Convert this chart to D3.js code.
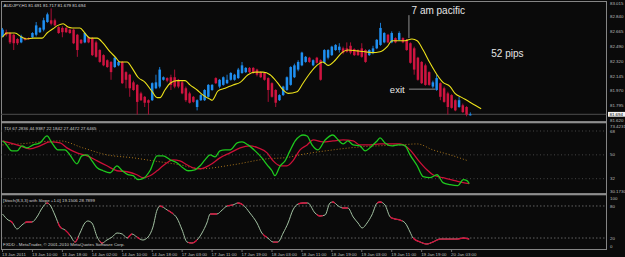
<!DOCTYPE html>
<html>
<head>
<meta charset="utf-8">
<title>AUDJPY,H1</title>
<script src="https://d3js.org/d3.v7.min.js"></script>
<style>
  body { margin: 0; background: #0a0a0a; }
  svg { display: block; }
</style>
</head>
<body>
<script>
// ---- candles (AUDJPY H1) ----
const open = [82.61,82.66,82.65,82.63,82.58,82.54,82.59,82.59,82.60,82.63,
  82.66,82.69,82.78,82.80,82.80,82.72,82.71,82.71,82.69,82.69,
  82.63,82.57,82.54,82.60,82.59,82.54,82.45,82.39,82.33,82.31,
  82.25,82.27,82.31,82.19,82.16,82.07,82.04,81.94,81.90,81.86,
  81.86,82.00,82.02,82.10,82.12,82.13,82.13,82.10,82.07,82.00,
  81.94,81.90,81.78,81.86,81.86,81.90,81.98,82.12,82.02,82.04,
  82.06,82.10,82.10,82.12,82.18,82.19,82.24,82.24,82.22,82.19,
  82.18,82.12,82.06,81.98,81.86,81.92,81.98,82.04,82.13,82.22,
  82.27,82.31,82.36,82.27,82.36,82.33,82.30,82.36,82.39,82.45,
  82.45,82.47,82.47,82.50,82.46,82.45,82.47,82.45,82.39,82.42,
  82.47,82.51,82.54,82.63,82.54,82.59,82.57,82.59,82.57,82.53,
  82.47,82.36,82.31,82.27,82.19,82.02,81.98,82.06,82.00,81.94,
  81.92,81.86,81.78,81.80,81.78,81.691];
const high = [82.71,82.69,82.66,82.64,82.59,82.63,82.60,82.60,82.66,82.78,
  82.72,82.83,82.89,82.94,82.82,82.73,82.73,82.72,82.70,82.70,
  82.64,82.58,82.66,82.61,82.60,82.56,82.46,82.40,82.34,82.32,
  82.37,82.32,82.32,82.20,82.17,82.09,82.05,81.96,81.91,81.87,
  82.07,82.16,82.25,82.14,82.13,82.16,82.22,82.11,82.09,82.02,
  81.96,81.91,81.87,81.93,81.99,82.05,82.05,82.13,82.11,82.14,
  82.16,82.19,82.17,82.24,82.31,82.25,82.25,82.25,82.23,82.20,
  82.19,82.13,82.07,81.99,81.93,82.03,82.14,82.26,82.29,82.33,
  82.43,82.38,82.37,82.34,82.37,82.34,82.46,82.46,82.50,82.52,
  82.53,82.49,82.54,82.54,82.47,82.46,82.53,82.46,82.46,82.50,
  82.58,82.77,82.66,82.64,82.67,82.60,82.67,82.60,82.58,82.54,
  82.49,82.37,82.32,82.29,82.20,82.09,82.16,82.07,82.02,81.96,
  81.93,81.87,81.90,81.82,81.79,81.717];
const low = [82.60,82.61,82.52,82.45,82.51,82.53,82.56,82.57,82.59,82.61,
  82.65,82.67,82.77,82.74,82.73,82.64,82.60,82.65,82.64,82.52,
  82.37,82.52,82.53,82.53,82.38,82.36,82.30,82.26,82.24,82.10,
  82.24,82.26,82.05,82.00,81.90,81.97,81.69,81.85,81.78,81.69,
  81.85,81.99,82.00,82.09,82.07,81.98,82.00,82.00,81.93,81.84,
  81.82,81.83,81.74,81.85,81.85,81.89,81.97,82.05,82.00,82.03,
  82.05,82.09,82.09,82.11,82.17,82.18,82.18,82.17,82.14,82.12,
  82.09,81.84,81.89,81.78,81.85,81.91,81.97,82.03,82.12,82.20,
  82.26,82.30,82.30,82.26,82.29,82.09,82.29,82.34,82.38,82.44,
  82.42,82.40,82.42,82.40,82.38,82.38,82.36,82.30,82.38,82.40,
  82.46,82.50,82.53,82.53,82.53,82.53,82.56,82.53,82.44,82.29,
  82.16,82.09,82.05,82.03,82.03,82.00,81.97,81.86,81.83,81.69,
  81.76,81.73,81.77,81.71,81.67,81.679];
const close = [82.69,82.63,82.54,82.53,82.53,82.61,82.57,82.58,82.65,82.74,
  82.71,82.80,82.87,82.76,82.74,82.65,82.66,82.66,82.65,82.53,
  82.45,82.53,82.65,82.54,82.39,82.37,82.31,82.27,82.25,82.19,
  82.36,82.31,82.06,82.10,82.00,81.98,81.84,81.86,81.83,81.83,
  82.06,82.07,82.22,82.13,82.09,82.04,82.02,82.02,81.94,81.86,
  81.83,81.84,81.86,81.92,81.98,82.04,82.04,82.06,82.10,82.13,
  82.10,82.18,82.16,82.22,82.27,82.24,82.19,82.18,82.16,82.13,
  82.10,81.98,81.90,81.83,81.92,82.02,82.13,82.25,82.27,82.31,
  82.42,82.37,82.31,82.33,82.30,82.10,82.45,82.45,82.49,82.51,
  82.49,82.42,82.43,82.42,82.39,82.39,82.37,82.31,82.45,82.47,
  82.57,82.71,82.65,82.54,82.65,82.54,82.65,82.54,82.45,82.30,
  82.22,82.10,82.06,82.04,82.04,82.07,82.12,81.90,81.84,81.78,
  81.77,81.74,81.86,81.72,81.69,81.694];

// yellow moving average (shifted forward past the last bar)
const maBar = [0,1.2,3.3,5.2,6.5,8.2,10.6,11.9,13.5,14.8,16.2,17.5,18.6,20.7,22,23.4,25.3,26.9,28.7,30.1,
  31.4,33.3,34.6,36.2,38.1,40,41.3,42.1,43.4,44.8,46.6,48.8,50.1,52,53.6,55.5,56,57.6,59.5,61.6,
  63.5,65.6,67.5,69.6,71.5,73.4,75,76.3,78.7,80.3,82.2,84,85.6,87,88.9,90.7,92.3,94.7,96.9,98.7,
  100.9,102.8,104.1,106.2,107.6,109.4,110.8,112.4,114.2,116.1,117.7,119.6,120.9,122.8,124.4,126.3,127.9];
const maVal = [82.60,82.65,82.65,82.60,82.58,82.59,82.59,82.65,82.70,82.74,82.76,82.72,82.71,82.71,82.65,82.59,82.59,82.53,82.43,82.37,
  82.31,82.31,82.24,82.13,82.07,81.96,81.89,81.89,81.98,82.06,82.09,82.09,82.04,81.98,81.92,81.87,81.86,81.97,82.00,82.04,
  82.07,82.16,82.19,82.19,82.16,82.07,81.98,81.94,81.96,82.06,82.18,82.27,82.31,82.27,82.33,82.42,82.45,82.44,82.43,82.42,
  82.43,82.49,82.56,82.56,82.56,82.58,82.56,82.45,82.30,82.16,82.07,82.02,81.94,81.89,81.85,81.80,81.76];

// TDI: green price line, red signal line, orange market base line
const tdiGreenBar = [0,0.7,2.5,3.9,5.2,6.5,8.2,10,11.9,13.2,14.8,16.7,18,19.9,21.2,22.6,23.9,25.3,26.9,28.7,
  30.6,32,33.5,34.9,36.2,37.5,39.4,41.3,42.9,44.8,46.6,48.2,49.6,51.4,52.8,54.1,55.5,56.8,58.1,59.5,
  60.8,62.7,64,65.6,67.5,69.3,70.7,72,72.8,74.2,75.5,76.8,78.2,79.5,80.3,81.4,82.7,84.3,86.2,88.3,
  89.7,91,92.3,93.7,95.5,96.9,98.7,100.1,100.9,102.2,104.1,105.7,106.8,107.6,108.9,110.8,112.4,114.2,116.1,117.7,
  119.6,121.7,123.1,124.1,124.7];
const tdiGreen = [60.5,59,53,53,56.75,55.25,57.5,59,64.25,59,53.75,53.75,50,43.25,49.25,50,45.5,40.25,38,36.5,
  41.75,38,35,34.25,31.25,32,38,49.25,49.25,46.25,44,40.25,38,38.75,41.75,46.25,50,48.5,53,53.75,
  53.75,59,59.75,57.5,53,47.75,42.5,38,34.25,41.75,45.5,53,60.5,64.25,65,64.25,57.5,53.75,61.25,65,
  61.25,58.25,60.5,57.5,56.75,53,56.75,60.5,62.75,59,56.75,57.5,57.5,56.75,50,41.75,33.5,32.75,35,29,
  27.5,26.75,31.25,30.5,28.25];
const tdiRedBar = [0,2,4.7,7.3,10,12.7,15.4,17.2,19.9,22.6,25.3,27.9,30.6,33.3,35.9,37.5,39.4,41.3,42.9,45.6,
  47.4,49.3,50.9,52.8,55.5,58.1,60.8,63.5,66.1,68.3,70.7,72.3,74.2,76,77.6,79.5,81.4,83,85.6,88.3,
  91,93.7,95.5,98.2,100.9,103.6,106.2,108.9,111,113.4,115,117.7,120.9,123.1,124.7];
const tdiRed = [60.5,59,56.75,54.5,56.75,59.75,59,55.25,51.5,49.25,45.5,41.75,38,37.25,35,32.75,34.25,38,41.75,46.25,
  45.5,42.5,40.25,39.5,42.5,47.75,51.5,55.25,56.75,55.25,51.5,45.5,41.75,41.75,45.5,53.75,57.5,61.25,59.75,60.5,
  61.25,60.5,57.5,57.5,58.25,58.25,58.25,53.75,46.25,38.75,35,32.75,30.5,29,28.25];
const tdiBaseBar = [0,4.7,10,15.4,21.5,27.9,34.9,40.2,47.4,52.8,61.6,70.7,76,79.5,88.3,95.5,106.2,110.8,115,119.6,124.4];
const tdiBase = [57.5,58.25,59.75,60.5,55.25,50,47.75,45.5,42.5,39.5,42.5,47,48,50,53.75,56,57.5,58.25,53.75,50,45.5];

// Stochastic(8,3,3) main line and the stretches drawn red (flat slope)
const stochBar = [0,1.5,2.5,3.9,5.2,6.5,7.9,9.2,10.6,11.9,12.7,14,15.4,16.7,18,19.4,20.7,22,22.8,23.9,
  25.3,26.6,27.9,29.3,30.6,32,33.3,34.6,35.9,37.5,38.9,40.2,41.3,42.1,44,45.3,46.6,48,49.3,50.6,
  52,53.3,54.6,55.5,57.3,58.7,60,61.6,62.9,64.3,66.1,68,69.3,70.9,72.3,73.6,75,76.3,77.6,79,
  80.3,81.6,83.5,84.8,86.2,87.5,88.3,89.7,91,92.3,93.7,95,96.1,97.4,98.7,100.1,100.9,102.2,103.6,104.9,
  106.2,107.6,108.9,109.7,111.6,113.4,115,116.9,119.6,121.5,123.1,124.7];
const stochVal = [65,53.75,50,36.9,44.4,50,50,59.4,76.25,85.6,81.9,63.1,40.6,35,25.6,12.5,29.4,48.1,51.9,48.1,
  21.9,10.6,16.25,21.9,29.4,27.5,20,27.5,21.9,16.25,21.9,40.6,72.5,80,72.5,66.9,57.5,35,12.5,10.6,
  16.25,29.4,48.1,65,65,72.5,80,81.9,85.6,81.9,66.9,48.1,29.4,20,12.5,12.5,29.4,48.1,72.5,83.75,
  85.6,85.6,66.9,61.25,63.1,85.6,87.5,80,76.25,76.25,59.4,48.1,38.75,48.1,63.1,85.6,87.5,81.9,59.4,55.6,
  53.75,48.1,31.25,20,12.5,8.75,12.5,18.1,18.1,18.1,20,18.1];
const stochRedRanges = [[2,2.8],[6,7.9],[11.7,12.3],[14.8,15.9],[16.7,18],[19.2,20.2],[26,26.9],[33.5,34.6],
  [35.9,36.7],[42,42.9],[44.2,45.6],[49.6,52],[55.5,57.3],[60,61.6],[62.7,64.3],[69.6,70.7],[72.3,73.6],
  [79,81.4],[84,85.6],[88,88.8],[90.7,92.3],[100.1,101.4],[103.6,106.8],[109.7,125]];

// axes
const timeTickBars = [0,8,16,24,32,40,48,56,64,72,80,88,96,104,112,120];
const timeTickLabels = ["13 Jan 2011","13 Jan 10:00","13 Jan 18:00","14 Jan 02:00","14 Jan 10:00","14 Jan 18:00",
  "17 Jan 03:00","17 Jan 11:00","17 Jan 19:00","18 Jan 03:00","18 Jan 11:00","18 Jan 19:00",
  "19 Jan 03:00","19 Jan 11:00","19 Jan 19:00","20 Jan 03:00"];
const priceTicks = [83.015, 82.840, 82.665, 82.490, 82.320, 82.145, 81.970, 81.795, 81.620];
const tdiLevels = [68, 50, 32];
const stochLevels = [80, 20];
const stochTickLabels = [100, 80, 20, 0];
const lastPrice = 81.694;

// ---- drawing ----
const W = 625, H = 257;
const font = "'Liberation Sans', Arial, sans-serif";
const tiny = 4.4;
const axisCol = "#bdbdbd";
const frameCol = "#858585";

const svg = d3.select("body").append("svg")
    .attr("width", W).attr("height", H)
    .style("background", "#0a0a0a");

const x = d3.scaleLinear().domain([0, 120]).range([2.5, 451.6]);
const yPrice = d3.scaleLinear().domain([81.620, 83.015]).range([120.6, 2]);
const yTdi = d3.scaleLinear().domain([32, 68]).range([178.7, 131]);
const yStoch = d3.scaleLinear().domain([0, 100]).range([248.7, 195.3]);

const panels = {
    main: {top: 1, bottom: 121},
    tdi: {top: 123, bottom: 194},
    stoch: {top: 195, bottom: 249.5}
};
const left = 1, right = 606.5;

const defs = svg.append("defs");
Object.entries(panels).forEach(([k, p]) => {
    defs.append("clipPath").attr("id", "clip-" + k)
        .append("rect")
        .attr("x", left).attr("y", p.top)
        .attr("width", right - left).attr("height", p.bottom - p.top);
});

// frame
svg.append("rect")
    .attr("x", 1.5).attr("y", 1.5)
    .attr("width", right - 1.5).attr("height", 248)
    .attr("fill", "none").attr("stroke", frameCol).attr("stroke-width", 1);
[122.3, 194.3].forEach(y => {
    svg.append("rect").attr("x", 1).attr("y", y - 1.2)
        .attr("width", right - 1).attr("height", 2.2)
        .attr("fill", "#8e8e8e");
});

// ---- main panel ----
const gMain = svg.append("g").attr("clip-path", "url(#clip-main)");

gMain.append("line")
    .attr("x1", left).attr("x2", right)
    .attr("y1", yPrice(lastPrice)).attr("y2", yPrice(lastPrice))
    .attr("stroke", "#4d4d4d").attr("stroke-width", 1);

const bars = open.map((o, i) => ({i, o, h: high[i], l: low[i], c: close[i]}));
const candleColor = d => d.c >= d.o ? "#1f8ff0" : "#cf1440";

const candle = gMain.selectAll("g.candle").data(bars).join("g").attr("class", "candle");
candle.append("line")
    .attr("x1", d => x(d.i)).attr("x2", d => x(d.i))
    .attr("y1", d => yPrice(d.h)).attr("y2", d => yPrice(d.l))
    .attr("stroke", d => d.c >= d.o ? "#1a78cc" : "#a80f35")
    .attr("stroke-width", 1);
candle.append("rect")
    .attr("x", d => x(d.i) - 1.25)
    .attr("width", 2.5)
    .attr("y", d => yPrice(Math.max(d.o, d.c)))
    .attr("height", d => Math.max(1, Math.abs(yPrice(d.o) - yPrice(d.c))))
    .attr("fill", candleColor);

const maLine = d3.line()
    .x(d => x(d[0])).y(d => yPrice(d[1]))
    .curve(d3.curveMonotoneX);
gMain.append("path")
    .datum(maBar.map((b, i) => [b, maVal[i]]))
    .attr("d", maLine)
    .attr("fill", "none").attr("stroke", "#ede21a").attr("stroke-width", 1.1);

// price axis
const gPriceAxis = svg.append("g");
gPriceAxis.selectAll("text").data(priceTicks).join("text")
    .attr("x", 610).attr("y", d => Math.max(3.2, yPrice(d)))
    .attr("dy", "0.35em")
    .attr("font-family", font).attr("font-size", tiny)
    .attr("fill", axisCol)
    .text(d => d.toFixed(3));
gPriceAxis.append("rect")
    .attr("x", 608).attr("y", yPrice(lastPrice) - 2.4)
    .attr("width", 17).attr("height", 4.8)
    .attr("fill", "#f2f2f2");
gPriceAxis.append("text")
    .attr("x", 609.5).attr("y", yPrice(lastPrice))
    .attr("dy", "0.35em")
    .attr("font-family", font).attr("font-size", tiny)
    .attr("fill", "#000").text(lastPrice.toFixed(3));

svg.append("text")
    .attr("x", 3.5).attr("y", 7)
    .attr("font-family", font).attr("font-size", tiny)
    .attr("fill", "#dcdcdc")
    .text("AUDJPY,H1  81.691 81.717 81.679 81.694");

// annotations
const noteCol = "#b4b4b4";
svg.append("line")
    .attr("x1", x(108.6)).attr("x2", x(108.6))
    .attr("y1", yPrice(82.86)).attr("y2", yPrice(82.59))
    .attr("stroke", noteCol).attr("stroke-width", 0.8);
svg.append("text")
    .attr("x", x(109.3)).attr("y", 14)
    .attr("font-family", font).attr("font-size", 10)
    .attr("fill", "#e6e6e6").text("7 am pacific");
svg.append("line")
    .attr("x1", x(108.6)).attr("x2", x(115.6))
    .attr("y1", yPrice(81.99)).attr("y2", yPrice(81.99))
    .attr("stroke", noteCol).attr("stroke-width", 0.8);
svg.append("text")
    .attr("x", x(103.5)).attr("y", 93)
    .attr("font-family", font).attr("font-size", 9.5)
    .attr("fill", "#e6e6e6").text("exit");
svg.append("text")
    .attr("x", x(130.6)).attr("y", 57)
    .attr("font-family", font).attr("font-size", 10)
    .attr("fill", "#e6e6e6").text("52 pips");

// ---- TDI panel ----
const gTdi = svg.append("g").attr("clip-path", "url(#clip-tdi)");
gTdi.selectAll("line.grid").data(tdiLevels).join("line")
    .attr("class", "grid")
    .attr("x1", left).attr("x2", right)
    .attr("y1", d => yTdi(d)).attr("y2", d => yTdi(d))
    .attr("stroke", "#555").attr("stroke-width", 0.8)
    .attr("stroke-dasharray", "1,2.5");

const tdiLine = d3.line()
    .x(d => x(d[0])).y(d => yTdi(d[1]))
    .curve(d3.curveMonotoneX);
gTdi.append("path")
    .datum(tdiBaseBar.map((b, i) => [b, tdiBase[i]]))
    .attr("d", tdiLine)
    .attr("fill", "none").attr("stroke", "#a8741c").attr("stroke-width", 1)
    .attr("stroke-dasharray", "1,2");
gTdi.append("path")
    .datum(tdiRedBar.map((b, i) => [b, tdiRed[i]]))
    .attr("d", tdiLine)
    .attr("fill", "none").attr("stroke", "#cc1038").attr("stroke-width", 1.3);
gTdi.append("path")
    .datum(tdiGreenBar.map((b, i) => [b, tdiGreen[i]]))
    .attr("d", tdiLine)
    .attr("fill", "none").attr("stroke", "#1ec81e").attr("stroke-width", 1.3);

svg.append("text")
    .attr("x", 4).attr("y", 129.5)
    .attr("font-family", font).attr("font-size", tiny)
    .attr("fill", "#cfcfcf")
    .text("TDI 67.2836 44.9387 22.1842 27.4472 27.6465");

const tdiAxis = [{t: "73.4231", y: 126}]
    .concat(tdiLevels.map(v => ({t: String(v), y: yTdi(v)})))
    .concat([{t: "30.1730", y: 191}]);
svg.append("g").selectAll("text").data(tdiAxis).join("text")
    .attr("x", 610).attr("y", d => d.y).attr("dy", "0.35em")
    .attr("font-family", font).attr("font-size", tiny)
    .attr("fill", axisCol).text(d => d.t);

// ---- Stochastic panel ----
const gSto = svg.append("g").attr("clip-path", "url(#clip-stoch)");
gSto.selectAll("line.grid").data(stochLevels).join("line")
    .attr("class", "grid")
    .attr("x1", left).attr("x2", right)
    .attr("y1", d => yStoch(d)).attr("y2", d => yStoch(d))
    .attr("stroke", "#7a7a7a").attr("stroke-width", 0.8)
    .attr("stroke-dasharray", "1.5,2");

const stoPts = stochBar.map((b, i) => [b, stochVal[i]]);
const stoLine = d3.line()
    .x(d => x(d[0])).y(d => yStoch(d[1]))
    .curve(d3.curveMonotoneX);
gSto.append("path")
    .datum(stoPts).attr("d", stoLine)
    .attr("fill", "none").attr("stroke", "#a3c2a3").attr("stroke-width", 1);

stochRedRanges.forEach((r, k) => {
    defs.append("clipPath").attr("id", "sto-red-" + k)
        .append("rect")
        .attr("x", x(r[0])).attr("y", panels.stoch.top)
        .attr("width", x(r[1]) - x(r[0]))
        .attr("height", panels.stoch.bottom - panels.stoch.top);
    gSto.append("path")
        .datum(stoPts).attr("d", stoLine)
        .attr("clip-path", "url(#sto-red-" + k + ")")
        .attr("fill", "none").attr("stroke", "#d4103c").attr("stroke-width", 1.3);
});

svg.append("text")
    .attr("x", 3).attr("y", 201.5)
    .attr("font-family", font).attr("font-size", tiny)
    .attr("fill", "#cfcfcf")
    .text("[Stoch(8,3,3) with Slope +1.0]  19.1506 28.7899");
svg.append("text")
    .attr("x", 3).attr("y", 245.5)
    .attr("font-family", font).attr("font-size", tiny)
    .attr("fill", "#cfcfcf")
    .text("FXDD - MetaTrader, \u00a9 2001-2010 MetaQuotes Software Corp.");

svg.append("g").selectAll("text").data(stochTickLabels).join("text")
    .attr("x", 610)
    .attr("y", d => Math.min(246.3, Math.max(198, yStoch(d))))
    .attr("dy", "0.35em")
    .attr("font-family", font).attr("font-size", tiny)
    .attr("fill", axisCol).text(d => d);

// ---- time axis ----
const gTime = svg.append("g");
gTime.selectAll("line").data(timeTickBars).join("line")
    .attr("x1", d => x(d)).attr("x2", d => x(d))
    .attr("y1", 249.5).attr("y2", 252)
    .attr("stroke", frameCol).attr("stroke-width", 0.8);
gTime.selectAll("text").data(timeTickBars).join("text")
    .attr("x", d => x(d) - 0.5).attr("y", 255.5)
    .attr("font-family", font).attr("font-size", tiny)
    .attr("fill", axisCol)
    .text((d, i) => timeTickLabels[i]);
</script>
</body>
</html>
